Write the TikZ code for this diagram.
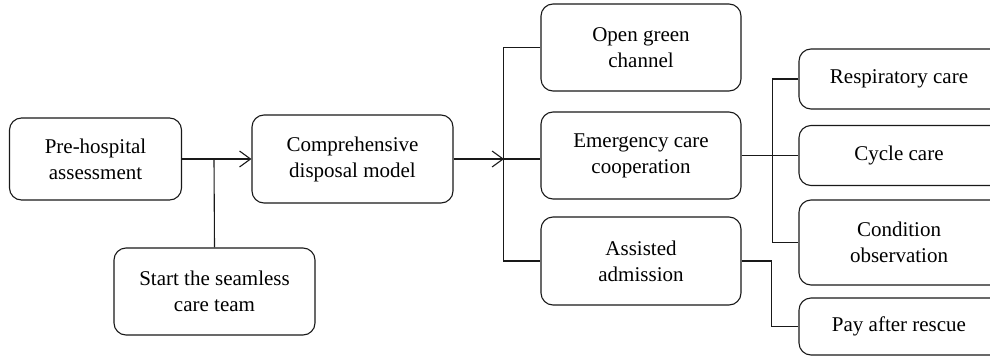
\documentclass[tikz,border=0pt]{standalone}
\usepackage{fontspec}
\setmainfont{Liberation Serif}
\usetikzlibrary{arrows.meta}

\tikzset{
  box/.style={draw=black!90,line width=1.1pt,rounded corners=12pt,align=center,
    font=\fontsize{21}{26}\selectfont,inner sep=0pt},
  link/.style={draw=black!90,line width=1.1pt},
}

\begin{document}
\begin{tikzpicture}[x=1pt,y=1pt]
\useasboundingbox (0,0) rectangle (990,360);

\node[box,minimum width=172,minimum height=82] (pre) at (95.5,201) {Pre-hospital\\assessment};
\node[box,minimum width=201,minimum height=87] (start) at (214.5,68.5) {Start the seamless\\care team};
\node[box,minimum width=201,minimum height=88] (comp) at (352.5,201) {Comprehensive\\disposal model};

\node[box,minimum width=200,minimum height=87] (open) at (641,312.5) {Open green\\channel};
\node[box,minimum width=200,minimum height=87] (emerg) at (641,204.5) {Emergency care\\cooperation};
\node[box,minimum width=200,minimum height=88] (assist) at (641,99) {Assisted\\admission};

\node[box,minimum width=220,minimum height=60] (resp) at (909,281) {\hspace{-20pt}Respiratory care};
\node[box,minimum width=220,minimum height=60] (cycle) at (909,204.5) {\hspace{-20pt}Cycle care};
\node[box,minimum width=220,minimum height=85] (cond) at (909,117.5) {\hspace{-20pt}Condition\\\hspace{-20pt}observation};
\node[box,minimum width=220,minimum height=57] (pay) at (909,33.5) {\hspace{-20pt}Pay after rescue};

\coordinate (j1) at (214,201);
\coordinate (j2) at (504,201);

% left part
\draw[link,-{Straight Barb[length=11pt,width=16pt]}] (pre.east) -- (comp.west);
\draw[link] (start.north) -- (j1);

% middle column
\draw[link,-{Straight Barb[length=11pt,width=16pt]}] (comp.east) -- (j2);
\draw[link] (j2) -- (j2 -| emerg.west);
\draw[link] (open.west) -- ++(-37,0) |- (assist.west);

% right column
\draw[link] (emerg.east) -- (cycle.west);
\draw[link] (resp.west) -- ++(-26,0) |- (cond.west);
\draw[link] (assist.east) -- ++(30,0) |- (pay.west);

\end{tikzpicture}
\end{document}
